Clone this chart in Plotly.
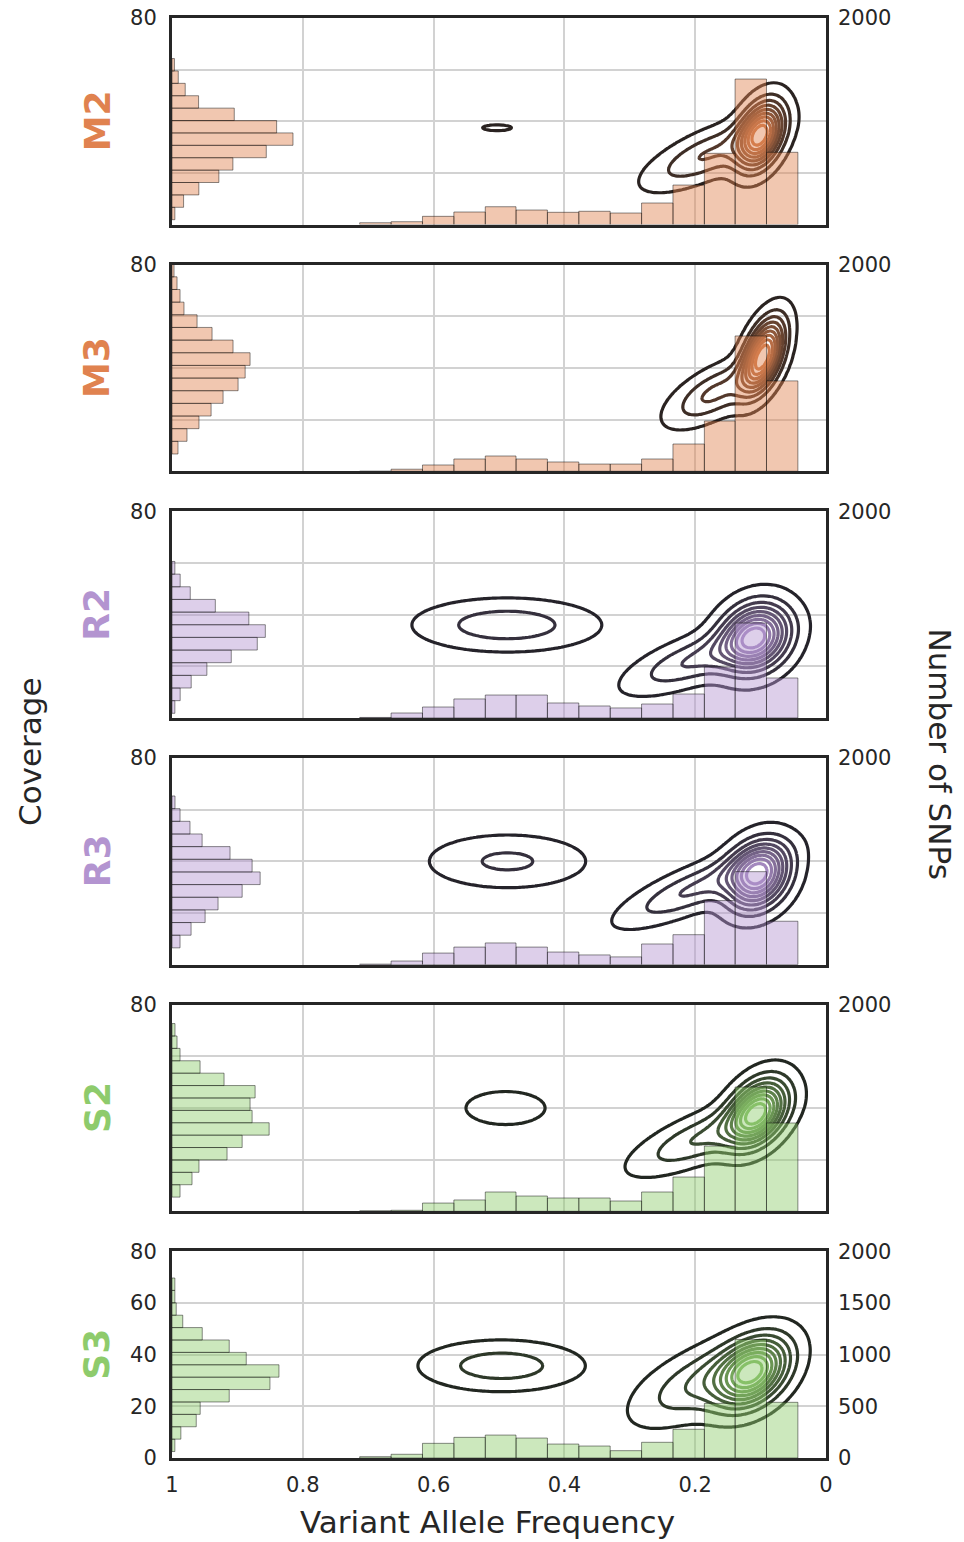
import numpy as np
import plotly.graph_objects as go

FONT = "DejaVu Sans"
INK = "#262626"
GRID = "#d2d2d2"

# ---- samples and colours -------------------------------------------------
sample_names = ["M2", "M3", "R2", "R3", "S2", "S3"]
group_colors = {"M": "#e0824f", "R": "#b394d0", "S": "#8ecb6c"}
group_darks = {"M": "#2a2321", "R": "#25232a", "S": "#222721"}

# ---- variant allele frequency histogram (shared bins, counts low -> high VAF)
vaf_edges = [0.043, 0.091, 0.139, 0.186, 0.234, 0.282, 0.330, 0.378,
             0.426, 0.474, 0.521, 0.569, 0.617, 0.665, 0.713]
vaf_m2 = [700, 1409, 690, 383, 209, 112, 129, 119, 141, 173, 122, 80, 28, 18]
vaf_m3 = [875, 1310, 487, 264, 119, 70, 70, 90, 119, 148, 119, 61, 20, 0]
vaf_r2 = [387, 919, 493, 232, 135, 97, 116, 145, 222, 222, 184, 106, 48, 5]
vaf_r3 = [420, 900, 620, 290, 200, 75, 94, 122, 170, 210, 170, 112, 35, 5]
vaf_s2 = [855, 1203, 632, 332, 187, 100, 129, 129, 148, 187, 110, 80, 10, 5]
vaf_s3 = [539, 1148, 529, 278, 152, 71, 116, 135, 193, 222, 200, 142, 36, 13]

# ---- coverage histogram: (first edge, bin width) and counts low -> high coverage
cov_bins_m2 = (1.9, 4.8)
cov_m2 = [21, 85, 197, 344, 447, 692, 888, 768, 457, 195, 97, 46, 18]
cov_bins_m3 = (6.7, 4.9)
cov_m3 = [44, 110, 198, 287, 375, 485, 537, 573, 448, 294, 184, 88, 59, 37, 15]
cov_bins_r2 = (1.8, 4.9)
cov_r2 = [21, 60, 141, 256, 435, 626, 685, 564, 318, 134, 60, 21]
cov_bins_r3 = (6.5, 4.9)
cov_r3 = [59, 140, 243, 338, 515, 647, 588, 426, 221, 132, 59, 22]
cov_bins_s2 = (5.5, 4.8)
cov_s2 = [59, 147, 198, 404, 515, 713, 588, 573, 610, 382, 206, 59, 37, 22]
cov_bins_s3 = (2.5, 4.8)
cov_s3 = [21, 65, 178, 207, 420, 719, 785, 545, 420, 222, 79, 31, 21, 21]

# ---- joint density as Gaussian bumps:
#      (vaf, coverage, sd_vaf, sd_cov, corr, relative height)
#      main low-VAF cluster, its high-VAF / low-coverage tail, heterozygous cluster
kde_m2 = [(0.100, 34.7, 0.0230, 8.40, -0.36, 1.00),
          (0.180, 27.2, 0.0580, 8.10, -0.71, 0.30),
          (0.503, 37.5, 0.0480, 2.45, 0.00, 0.062)]
kde_m3 = [(0.096, 45.0, 0.0212, 9.20, -0.50, 1.00),
          (0.170, 30.4, 0.0440, 7.70, -0.64, 0.30)]
kde_r2 = [(0.108, 31.3, 0.0343, 8.50, -0.18, 1.00),
          (0.200, 22.5, 0.0635, 7.70, -0.69, 0.30),
          (0.488, 36.0, 0.0830, 6.00, 0.00, 0.255)]
kde_r3 = [(0.1034, 34.6, 0.0310, 8.45, -0.24, 1.00),
          (0.200, 29.5, 0.0690, 8.60, -0.79, 0.30),
          (0.487, 40.0, 0.0750, 6.40, 0.00, 0.193)]
kde_s2 = [(0.105, 38.3, 0.0300, 8.45, -0.38, 1.00),
          (0.190, 28.5, 0.0640, 8.40, -0.73, 0.30),
          (0.490, 40.0, 0.0520, 5.50, 0.00, 0.11)]
kde_s3 = [(0.1125, 33.0, 0.0360, 8.65, -0.37, 1.00),
          (0.190, 29.8, 0.0620, 10.0, -0.62, 0.30),
          (0.496, 35.7, 0.0740, 5.80, 0.00, 0.25)]

vaf_tables = [vaf_m2, vaf_m3, vaf_r2, vaf_r3, vaf_s2, vaf_s3]
cov_tables = [(cov_bins_m2, cov_m2), (cov_bins_m3, cov_m3), (cov_bins_r2, cov_r2),
              (cov_bins_r3, cov_r3), (cov_bins_s2, cov_s2), (cov_bins_s3, cov_s3)]
kde_tables = [kde_m2, kde_m3, kde_r2, kde_r3, kde_s2, kde_s3]

# contour levels as fractions of the peak density (10 levels from 5 %, top one = peak)
level_fracs = np.linspace(0.05, 1.0, 10)

# ---- evaluation grid for the density surface ----------------------------
vgrid = np.linspace(-0.02, 1.02, 209)
cgrid = np.linspace(-2.0, 82.0, 169)
V, C = np.meshgrid(vgrid, cgrid)


def joint_density(components):
    z = np.zeros_like(V)
    for v0, c0, sv, sc, rho, amp in components:
        dv = (V - v0) / sv
        dc = (C - c0) / sc
        r = (dv * dv - 2 * rho * dv * dc + dc * dc) / (1 - rho * rho)
        z += amp * np.exp(-0.5 * r)
    return z / z.max()


def hex_rgb(h):
    h = h.lstrip("#")
    return tuple(int(h[i:i + 2], 16) for i in (0, 2, 4))


def rgba(h, a):
    r, g, b = hex_rgb(h)
    return f"rgba({r},{g},{b},{a})"


def blend(h1, h2, t):
    a, b = hex_rgb(h1), hex_rgb(h2)
    return "#%02x%02x%02x" % tuple(round(x + (y - x) * t) for x, y in zip(a, b))


# ---- geometry of the six stacked panels ---------------------------------
ML, MR, MT, MB = 172, 138, 18, 84
W, H = 964, 1542
plot_h = H - MT - MB
panel_h = 206.6 / plot_h
panel_gap = 40.08 / plot_h


def ax_name(i, kind):
    return kind if i == 1 else f"{kind}{i}"


fig = go.Figure()
layout = {}
annotations = []

vaf_centers = [(a + b) / 2 for a, b in zip(vaf_edges[:-1], vaf_edges[1:])]
vaf_widths = [b - a for a, b in zip(vaf_edges[:-1], vaf_edges[1:])]
tick_font = dict(family=FONT, size=21, color=INK)
cov_ticks = [0, 20, 40, 60, 80]
snp_ticks = [0, 500, 1000, 1500, 2000]

for k, name in enumerate(sample_names):
    grp = name[0]
    col = group_colors[grp]
    dark = group_darks[grp]
    xi = 2 * k + 1
    xa, x2a = ax_name(xi, "x"), ax_name(xi + 1, "x")
    ya, y2a = ax_name(xi, "y"), ax_name(xi + 1, "y")
    top = 1 - k * (panel_h + panel_gap)
    dom = [top - panel_h, top]
    last = k == len(sample_names) - 1

    # density contours
    z = joint_density(kde_tables[k])
    fig.add_trace(go.Contour(
        x=vgrid, y=cgrid, z=np.round(z, 4),
        contours=dict(coloring="lines", start=level_fracs[0],
                      end=level_fracs[8] + 1e-6, size=level_fracs[1] - level_fracs[0]),
        line=dict(width=3.2),
        colorscale=[[0, dark], [1, blend(dark, col, 0.89)]],
        showscale=False, hoverinfo="skip",
        xaxis=xa, yaxis=ya,
    ))

    # coverage histogram along the left edge
    (c0, cw), ccounts = cov_tables[k]
    ccent = [c0 + cw * (i + 0.5) for i in range(len(ccounts))]
    fig.add_trace(go.Bar(
        y=ccent, x=ccounts, width=cw, orientation="h",
        marker=dict(color=rgba(col, 0.45), line=dict(color="rgba(0,0,0,0.45)", width=1)),
        hoverinfo="skip", xaxis=x2a, yaxis=ya,
    ))

    # VAF histogram along the bottom (right-hand count axis)
    fig.add_trace(go.Bar(
        x=vaf_centers, y=vaf_tables[k], width=vaf_widths,
        marker=dict(color=rgba(col, 0.45), line=dict(color="rgba(0,0,0,0.45)", width=1)),
        hoverinfo="skip", xaxis=xa, yaxis=y2a,
    ))

    layout[ax_name(xi, "xaxis")] = dict(
        domain=[0, 1], range=[1, 0], anchor=ya, automargin=False,
        tickvals=[1, 0.8, 0.6, 0.4, 0.2, 0], ticktext=["1", "0.8", "0.6", "0.4", "0.2", "0"],
        showticklabels=last, ticks="", ticklabelstandoff=6, tickfont=tick_font,
        showgrid=True, gridcolor=GRID, gridwidth=1.6, zeroline=False,
        showline=True, mirror=True, linecolor=INK, linewidth=3,
    )
    layout[ax_name(xi + 1, "xaxis")] = dict(
        overlaying=xa, anchor=ya, range=[0, 4800], visible=False,
        showgrid=False, automargin=False,
    )
    layout[ax_name(xi, "yaxis")] = dict(
        domain=dom, range=[0, 80], anchor=xa, automargin=False,
        tickvals=cov_ticks,
        ticktext=[str(t) if (last or t == 80) else "" for t in cov_ticks],
        ticks="", ticklabelstandoff=8, tickfont=tick_font,
        showgrid=True, gridcolor=GRID, gridwidth=1.6, zeroline=False,
        showline=True, mirror=True, linecolor=INK, linewidth=3,
    )
    layout[ax_name(xi + 1, "yaxis")] = dict(
        overlaying=ya, anchor=xa, side="right", range=[0, 2000], automargin=False,
        tickvals=snp_ticks,
        ticktext=[str(t) if (last or t == 2000) else "" for t in snp_ticks],
        ticks="", ticklabelstandoff=11, tickfont=tick_font,
        showgrid=False, zeroline=False, showline=False,
    )

    annotations.append(dict(
        text=f"<b>{name}</b>", x=(97 - ML) / (W - ML - MR), y=(dom[0] + dom[1]) / 2,
        xref="paper", yref="paper", showarrow=False, textangle=-90,
        xanchor="center", yanchor="middle",
        font=dict(family=FONT, size=36, color=col),
    ))

title_font = dict(family=FONT, size=31, color=INK)
pw = W - ML - MR
annotations += [
    dict(text="Coverage", x=(30 - ML) / pw, y=(MT + plot_h - 752) / plot_h,
         xref="paper", yref="paper", showarrow=False, textangle=-90,
         xanchor="center", yanchor="middle", font=title_font),
    dict(text="Number of SNPs", x=(940 - ML) / pw, y=(MT + plot_h - 753.5) / plot_h,
         xref="paper", yref="paper", showarrow=False, textangle=90,
         xanchor="center", yanchor="middle", font=title_font),
    dict(text="Variant Allele Frequency", x=(487.5 - ML) / pw, y=(MT + plot_h - 1522) / plot_h,
         xref="paper", yref="paper", showarrow=False,
         xanchor="center", yanchor="middle", font=title_font),
]

fig.update_layout(
    width=W, height=H, autosize=False,
    margin=dict(l=ML, r=MR, t=MT, b=MB),
    paper_bgcolor="white", plot_bgcolor="white",
    showlegend=False, annotations=annotations,
    font=dict(family=FONT, color=INK),
    **layout,
)

fig.write_html("out.html")
